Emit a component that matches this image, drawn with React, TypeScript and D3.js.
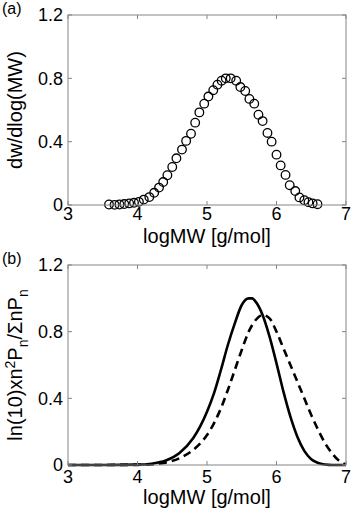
import * as d3 from 'd3'

// panel (a): measured distribution, circles
const logMwA = [
  3.59, 3.67, 3.74, 3.81, 3.88, 3.95, 4.02, 4.09, 4.17, 4.24, 4.31, 4.37, 4.43, 4.5, 4.56,
  4.64, 4.7, 4.77, 4.83, 4.89, 4.96, 5.02, 5.09, 5.15, 5.21, 5.27, 5.34, 5.42, 5.48, 5.55,
  5.61, 5.68, 5.74, 5.8, 5.87, 5.93, 6.0, 6.06, 6.13, 6.19, 6.27, 6.33, 6.4, 6.46, 6.52, 6.59,
]
const dwA = [
  0.003, 0.001, 0.003, 0.006, 0.01, 0.014, 0.02, 0.034, 0.05, 0.077, 0.11, 0.145, 0.188,
  0.24, 0.295, 0.35, 0.405, 0.45, 0.52, 0.585, 0.64, 0.685, 0.725, 0.76, 0.785, 0.8, 0.8,
  0.785, 0.745, 0.72, 0.67, 0.64, 0.57, 0.53, 0.455, 0.4, 0.318, 0.25, 0.19, 0.125, 0.088,
  0.048, 0.03, 0.018, 0.01, 0.005,
]

// panel (b): two model curves
const logMwSolid = [
  3.0, 3.5, 4.0, 4.2, 4.4, 4.6, 4.8, 4.9, 5.0, 5.1, 5.2, 5.3, 5.4, 5.5, 5.6, 5.65, 5.7, 5.8,
  5.9, 6.0, 6.1, 6.2, 6.3, 6.4, 6.5, 6.6, 6.7, 6.8, 7.0,
]
const solidVals = [
  0, 0, 0.002, 0.008, 0.025, 0.07, 0.16, 0.23, 0.32, 0.43, 0.57, 0.72, 0.85, 0.96, 1.0,
  1.0, 0.98, 0.9, 0.77, 0.61, 0.44, 0.29, 0.17, 0.085, 0.035, 0.012, 0.003, 0, 0,
]
const logMwDashed = [
  3.0, 4.0, 4.2, 4.4, 4.6, 4.8, 5.0, 5.1, 5.2, 5.3, 5.4, 5.5, 5.6, 5.7, 5.8, 5.9, 6.0, 6.1,
  6.2, 6.3, 6.4, 6.5, 6.6, 6.7, 6.8, 6.9, 7.0,
]
const dashedVals = [
  0, 0.001, 0.004, 0.014, 0.04, 0.09, 0.18, 0.25, 0.34, 0.45, 0.57, 0.69, 0.8, 0.87, 0.9,
  0.88, 0.8, 0.7, 0.6, 0.5, 0.4, 0.3, 0.21, 0.13, 0.07, 0.025, 0.003,
]

const xTicks = [3, 4, 5, 6, 7]
const yTicks = [0, 0.4, 0.8, 1.2]

const FONT = 'Liberation Sans, Arial, Helvetica, sans-serif'
const AXIS_COLOR = '#858585'
const PLOT_X = [68, 346]

type PanelProps = {
  top: number
  bottom: number
  tag: string
  xLabelGap: number
  tickGap: number
  yLabel: React.ReactNode
  children: (x: d3.ScaleLinear<number, number>, y: d3.ScaleLinear<number, number>) => React.ReactNode
}

const Panel = ({top, bottom, tag, xLabelGap, tickGap, yLabel, children}: PanelProps) => {
  const xScale = d3.scaleLinear().domain([3, 7]).range(PLOT_X)
  const yScale = d3.scaleLinear().domain([0, 1.2]).range([bottom, top])
  const [left, right] = PLOT_X
  const tl = 4

  return (
    <g fontFamily={FONT}>
      <text x={2} y={top - 1} fontSize={16}>
        {tag}
      </text>
      {children(xScale, yScale)}
      <rect
        x={left}
        y={top}
        width={right - left}
        height={bottom - top}
        fill="none"
        stroke={AXIS_COLOR}
        strokeWidth={1}
      />
      {xTicks.map(t => (
        <g key={'x' + t}>
          <line x1={xScale(t)} x2={xScale(t)} y1={bottom} y2={bottom - tl} stroke={AXIS_COLOR} />
          <line x1={xScale(t)} x2={xScale(t)} y1={top} y2={top + tl} stroke={AXIS_COLOR} />
          <text x={xScale(t)} y={bottom + tickGap} textAnchor="middle" fontSize={18}>
            {t}
          </text>
        </g>
      ))}
      {yTicks.map(t => (
        <g key={'y' + t}>
          <line x1={left} x2={left + tl} y1={yScale(t)} y2={yScale(t)} stroke={AXIS_COLOR} />
          <line x1={right} x2={right - tl} y1={yScale(t)} y2={yScale(t)} stroke={AXIS_COLOR} />
          <text x={63} y={yScale(t)} dy="0.36em" textAnchor="end" fontSize={18}>
            {t}
          </text>
        </g>
      ))}
      <text x={(left + right) / 2} y={bottom + xLabelGap} textAnchor="middle" fontSize={20}>
        logMW [g/mol]
      </text>
      <text
        transform={`translate(22,${(top + bottom) / 2}) rotate(-90)`}
        textAnchor="middle"
        fontSize={20}>
        {yLabel}
      </text>
    </g>
  )
}

export default function App() {
  const line = d3
    .line<[number, number]>()
    .curve(d3.curveMonotoneX)

  return (
    <svg width={353} height={514} style={{position: 'absolute', left: 0, top: 0, background: '#fff'}}>
      <Panel top={15} bottom={205} tag="(a)" tickGap={15} xLabelGap={38} yLabel="dw/dlog(MW)">
        {(x, y) =>
          logMwA.map((m, i) => (
            <circle
              key={i}
              cx={x(m)}
              cy={y(dwA[i])}
              r={4.3}
              fill="none"
              stroke="#000"
              strokeWidth={1.3}
            />
          ))
        }
      </Panel>
      <Panel
        top={265}
        bottom={465}
        tag="(b)"
        tickGap={18}
        xLabelGap={39}
        yLabel={
          <>
            ln(10)xn
            <tspan dy={-7} fontSize={14}>2</tspan>
            <tspan dy={7}>P</tspan>
            <tspan dy={6} fontSize={14}>n</tspan>
            <tspan dy={-6}>/ΣnP</tspan>
            <tspan dy={6} fontSize={14}>n</tspan>
          </>
        }>
        {(x, y) => (
          <g fill="none" stroke="#000" strokeWidth={2.6}>
            <path d={line(logMwSolid.map((m, i) => [x(m), y(solidVals[i])])) ?? ''} />
            <path
              d={line(logMwDashed.map((m, i) => [x(m), y(dashedVals[i])])) ?? ''}
              strokeDasharray="8 5"
            />
          </g>
        )}
      </Panel>
    </svg>
  )
}
